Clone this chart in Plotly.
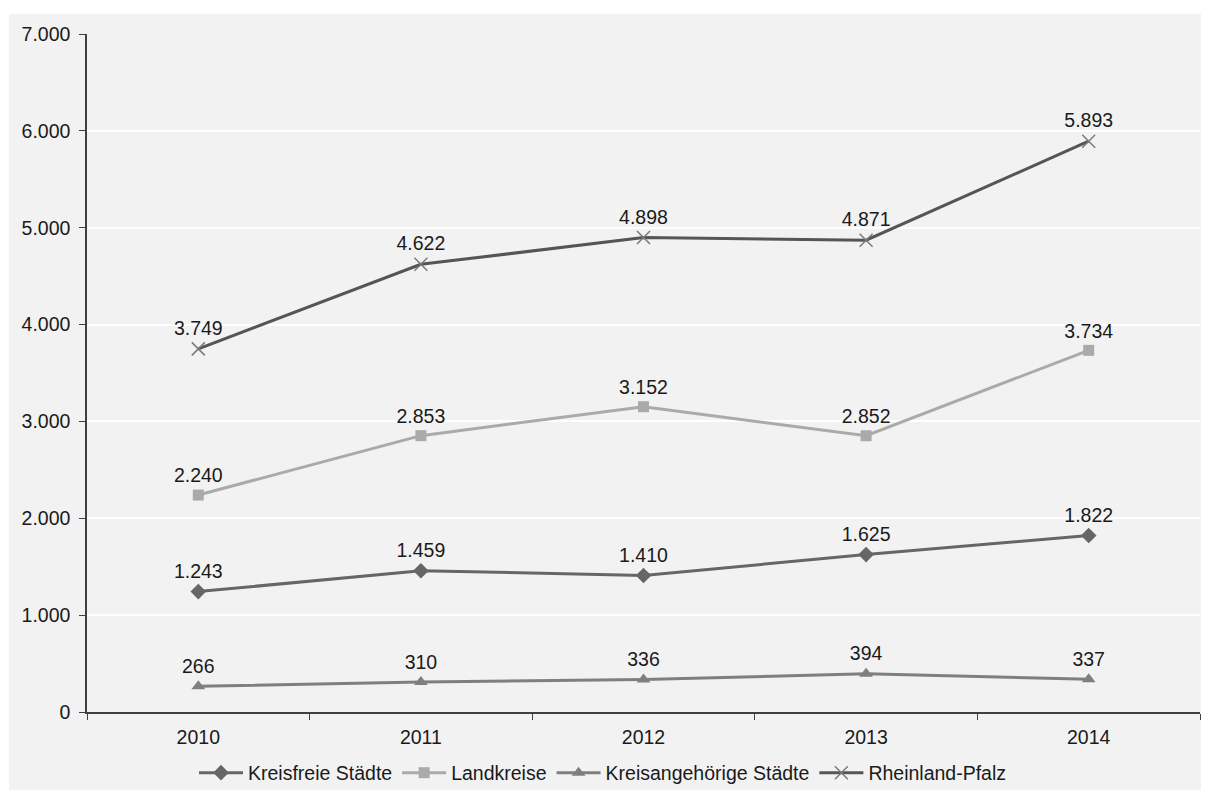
import plotly.graph_objects as go

years = ["2010", "2011", "2012", "2013", "2014"]
kreisfreie = [1243, 1459, 1410, 1625, 1822]
landkreise = [2240, 2853, 3152, 2852, 3734]
kreisangehoerige = [266, 310, 336, 394, 337]
rlp = [3749, 4622, 4898, 4871, 5893]
y_ticks = [0, 1000, 2000, 3000, 4000, 5000, 6000, 7000]

# page body has an 8px margin, so the figure is placed at (8, 8)
OFF = 8
W, H = 1209 - OFF, 791 - OFF
L, T = 87 - OFF, 34 - OFF
R = W - (1200 - OFF)
B = H - (712 - OFF)
pw, ph = W - L - R, H - T - B

FONT = "Liberation Sans, Arial"
FS = 19.5

series = [
    ("Kreisfreie Städte", kreisfreie, "#666666", dict(symbol="diamond", size=12, color="#666666")),
    ("Landkreise", landkreise, "#aaaaaa", dict(symbol="square", size=11, color="#aaaaaa")),
    ("Kreisangehörige Städte", kreisangehoerige, "#7f7f7f", dict(symbol="triangle-up", size=12, color="#7f7f7f")),
    ("Rheinland-Pfalz", rlp, "#555555", dict(symbol="x-thin", size=13, line=dict(width=1.5, color="#7a7a7a"), color="#7a7a7a")),
]

fig = go.Figure()
for name, vals, col, mk in series:
    fig.add_trace(go.Scatter(
        x=years, y=vals, name=name, mode="lines+markers+text",
        line=dict(color=col, width=3), marker=mk,
        text=vals, texttemplate="%{y:,}", textposition="top center",
        textfont=dict(family=FONT, size=FS, color="#1a1a1a"),
        cliponaxis=False,
    ))

# gray panel behind the chart (with a thin white border at top/left/bottom)
fig.add_shape(type="rect", xref="paper", yref="paper", layer="below",
              x0=(1 - L) / pw, x1=(W - L) / pw + 0.01,
              y0=-((790 - OFF) - (T + ph)) / ph, y1=1 + (T - (14 - OFF)) / ph,
              fillcolor="#f2f2f2", line=dict(width=0))

fig.update_layout(
    width=W, height=H,
    margin=dict(l=L, r=R, t=T, b=B, autoexpand=False),
    paper_bgcolor="white", plot_bgcolor="#f2f2f2",
    separators=",.",
    font=dict(family=FONT, size=FS, color="#1a1a1a"),
    showlegend=True,
    legend=dict(orientation="h", x=(603 - OFF - L) / pw, xanchor="center",
                y=-((773 - OFF) - (T + ph)) / ph, yanchor="middle",
                bgcolor="rgba(0,0,0,0)", font=dict(size=FS),
                itemwidth=44, tracegroupgap=0),
    xaxis=dict(type="category", range=[-0.5, 4.5], showgrid=False,
               showline=True, linecolor="#404040", linewidth=1.5,
               ticks="outside", tickson="boundaries", ticklen=6, tickcolor="#404040",
               tickfont=dict(size=FS), ticklabelstandoff=7, zeroline=False),
    yaxis=dict(range=[0, 7000], tickvals=y_ticks, tickformat=",",
               showgrid=True, gridcolor="white", gridwidth=2,
               showline=True, linecolor="#404040", linewidth=1.5,
               ticks="outside", ticklen=6, tickcolor="#404040",
               tickfont=dict(size=FS), ticklabelstandoff=5, zeroline=False),
)

fig.write_html("out.html")
